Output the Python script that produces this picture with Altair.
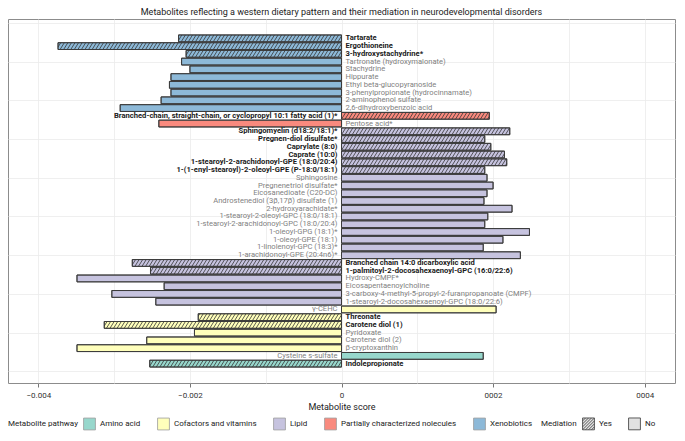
import altair as alt
import pandas as pd
import numpy as np

names = [
    "Tartarate", "Ergothioneine", "3-hydroxystachydrine*", "Tartronate (hydroxymalonate)",
    "Stachydrine", "Hippurate", "Ethyl beta-glucopyranoside",
    "3-phenylpropionate (hydrocinnamate)", "2-aminophenol sulfate", "2,6-dihydroxybenzoic acid",
    "Branched-chain, straight-chain, or cyclopropyl 10:1 fatty acid (1)*", "Pentose acid*",
    "Sphingomyelin (d18:2/18:1)*", "Pregnen-diol disulfate*", "Caprylate (8:0)", "Caprate (10:0)",
    "1-stearoyl-2-arachidonoyl-GPE (18:0/20:4)", "1-(1-enyl-stearoyl)-2-oleoyl-GPE (P-18:0/18:1)",
    "Sphingosine", "Pregnenetriol disulfate*", "Eicosanedioate (C20-DC)",
    "Androstenediol (3β,17β) disulfate (1)", "2-hydroxyarachidate*",
    "1-stearoyl-2-oleoyl-GPC (18:0/18:1)", "1-stearoyl-2-arachidonoyl-GPC (18:0/20:4)",
    "1-oleoyl-GPG (18:1)*", "1-oleoyl-GPE (18:1)", "1-linolenoyl-GPC (18:3)*",
    "1-arachidonoyl-GPE (20:4n6)*", "Branched chain 14:0 dicarboxylic acid",
    "1-palmitoyl-2-docosahexaenoyl-GPC (16:0/22:6)", "Hydroxy-CMPF*", "Eicosapentaenoylcholine",
    "3-carboxy-4-methyl-5-propyl-2-furanpropanoate (CMPF)",
    "1-stearoyl-2-docosahexaenoyl-GPC (18:0/22:6)", "γ-CEHC", "Threonate", "Carotene diol (1)",
    "Pyridoxate", "Carotene diol (2)", "β-cryptoxanthin", "Cysteine s-sulfate", "Indolepropionate",
]
scores = [
    -0.00215, -0.00374, -0.00205, -0.00211, -0.00200, -0.00225, -0.00227, -0.00225, -0.00238,
    -0.00292, 0.00195, -0.00241, 0.00222, 0.00189, 0.00197, 0.00215, 0.00218, 0.00189,
    0.00192, 0.00200, 0.00192, 0.00188, 0.00225, 0.00193, 0.00189, 0.00248, 0.00213, 0.00187,
    0.00236, -0.00276, -0.00252, -0.00349, -0.00234, -0.00303, -0.00245, 0.00204, -0.00189,
    -0.00313, -0.00194, -0.00257, -0.00349, 0.00187, -0.00253,
]
X, P, L, C, A = ("Xenobiotics", "Partially characterized nolecules", "Lipid",
                 "Cofactors and vitamins", "Amino acid")
pathways = [X] * 10 + [P] * 2 + [L] * 23 + [C] * 6 + [A] * 2
mediation = (["Yes"] * 3 + ["No"] * 7 + ["Yes", "No"] + ["Yes"] * 6 + ["No"] * 11
             + ["Yes"] * 2 + ["No"] * 4 + ["No", "Yes", "Yes", "No", "No", "No"] + ["No", "Yes"])

pathway_domain = [A, C, L, P, X]
pathway_colors = ["#97d7cc", "#ffffbb", "#c6c3df", "#f98a7e", "#8db9d8"]
mediation_domain = ["Yes", "No"]
x_ticks = [-0.004, -0.003, -0.002, -0.001, 0.0, 0.001, 0.002, 0.003, 0.004]
y_grid = [0, 5, 10, 15, 20, 25, 30, 35, 40, 45]

n = len(names)
df = pd.DataFrame({"name": names, "score": scores, "pathway": pathways, "mediation": mediation})
df["row"] = n - np.arange(n)
df["lo"] = df["row"] - 0.44
df["hi"] = df["row"] + 0.44
df["zero"] = 0.0

# hatch stripes derived from the bar extents
S = 4.7e-5
D = 5.6e-5
recs = []
for r in df[df["mediation"] == "Yes"].itertuples():
    a, b = min(r.score, 0.0), max(r.score, 0.0)
    s = np.floor((a - D) / S) * S
    while s < b:
        t0 = max(0.0, (a - s) / D)
        t1 = min(1.0, (b - s) / D)
        if t1 > t0:
            recs.append({"x1": s + t0 * D, "x2": s + t1 * D,
                         "y1": r.lo + t0 * (r.hi - r.lo), "y2": r.lo + t1 * (r.hi - r.lo)})
        s += S
hatch = pd.DataFrame(recs)

xs = alt.Scale(domain=[-0.0044, 0.0044], nice=False, zero=False)
ys = alt.Scale(domain=[-1.5, 45.5], nice=False, zero=False)

minor_test = "round(datum.value*1000) % 2 != 0"
xaxis = alt.Axis(
    values=x_ticks,
    labelExpr=(minor_test + " ? '' : datum.value == 0 ? '0' : datum.value < 0 ? "
               "'\u2212' + format(-datum.value, '.3f') : replace(format(datum.value, '.3f'), '.', '')"),
    tickOpacity={"condition": {"test": minor_test, "value": 0}, "value": 1},
    grid=True, domain=False, tickSize=4, labelPadding=4, titlePadding=3,
)
yaxis = alt.Axis(values=y_grid, labels=False, ticks=False, domain=False, grid=True, title=None)

bars = alt.Chart(df).mark_rect(stroke="#3a3a3a", strokeWidth=0.9).encode(
    x=alt.X("score:Q", scale=xs, axis=xaxis, title="Metabolite score"),
    x2="zero:Q",
    y=alt.Y("lo:Q", scale=ys, axis=yaxis),
    y2="hi:Q",
    fill=alt.Fill("pathway:N", scale=alt.Scale(domain=pathway_domain, range=pathway_colors),
                  legend=alt.Legend(title="Metabolite pathway", symbolType="square",
                                    symbolStrokeColor="#9a9a9a", symbolStrokeWidth=0.8)),
)

stripes = alt.Chart(hatch).mark_rule(color="#333333", strokeWidth=0.8).encode(
    x="x1:Q", x2="x2:Q", y="y1:Q", y2="y2:Q"
)

outline = alt.Chart(df).mark_rect(fillOpacity=0, stroke="#3a3a3a", strokeWidth=0.9).encode(
    x="score:Q", x2="zero:Q", y="lo:Q", y2="hi:Q"
)

hatch_path = ("M-1,-1H1V1H-1Z M-1,-0.5L-0.5,-1 M-1,0L0,-1 M-1,0.5L0.5,-1 M-1,1L1,-1 "
              "M-0.5,1L1,-0.5 M0,1L1,0 M0.5,1L1,0.5")
square_path = "M-1,-1H1V1H-1Z"
med_legend = alt.Chart(df).transform_filter("false").mark_point(
    filled=False, color="#4a4a4a", fill="#e2e2e2", strokeWidth=0.9, opacity=1
).encode(
    x="score:Q", y="row:Q",
    shape=alt.Shape("mediation:N",
                    scale=alt.Scale(domain=mediation_domain, range=[hatch_path, square_path]),
                    legend=alt.Legend(title="Mediation", symbolFillColor="#e2e2e2",
                                      symbolStrokeWidth=0.9, symbolOpacity=1)),
)

texts = []
for neg in (True, False):
    for med in ("Yes", "No"):
        cond = ("datum.score < 0" if neg else "datum.score >= 0") + f" && datum.mediation == '{med}'"
        texts.append(
            alt.Chart(df).transform_filter(cond).mark_text(
                align="left" if neg else "right", baseline="middle",
                dx=4 if neg else -4, fontSize=7.6,
                fontWeight="bold" if med == "Yes" else "normal",
                color="#1a1a1a" if med == "Yes" else "#7f7f7f",
            ).encode(x="zero:Q", y="row:Q", text="name:N")
        )

chart = alt.layer(bars, stripes, outline, med_legend, *texts).properties(
    width=668, height=424,
    autosize=alt.AutoSizeParams(type="fit", contains="padding"),
    padding={"left": 0, "right": 1, "top": 0, "bottom": 0},
    title=alt.TitleParams(
        "Metabolites reflecting a western dietary pattern and their mediation in neurodevelopmental disorders",
        fontSize=9, fontWeight="normal", color="#222222", anchor="middle", offset=2,
    ),
).configure(
    font="Roboto",
).configure_view(
    stroke="#8c8c8c", strokeWidth=1,
).configure_axis(
    gridColor="#ebebeb", gridWidth=0.8, labelFontSize=8, labelColor="#333333",
    titleFontSize=9, titleFontWeight="normal", titleColor="#222222", tickColor="#777777",
).configure_legend(
    orient="bottom", direction="horizontal", titleOrient="left",
    titleFontSize=8, labelFontSize=8, titleFontWeight="normal",
    titleColor="#222222", labelColor="#222222", symbolSize=140, columnPadding=14,
    offset=6, titlePadding=5, labelOffset=4,
)

chart.save("out.html", embed_options={"renderer": "svg", "actions": False})
